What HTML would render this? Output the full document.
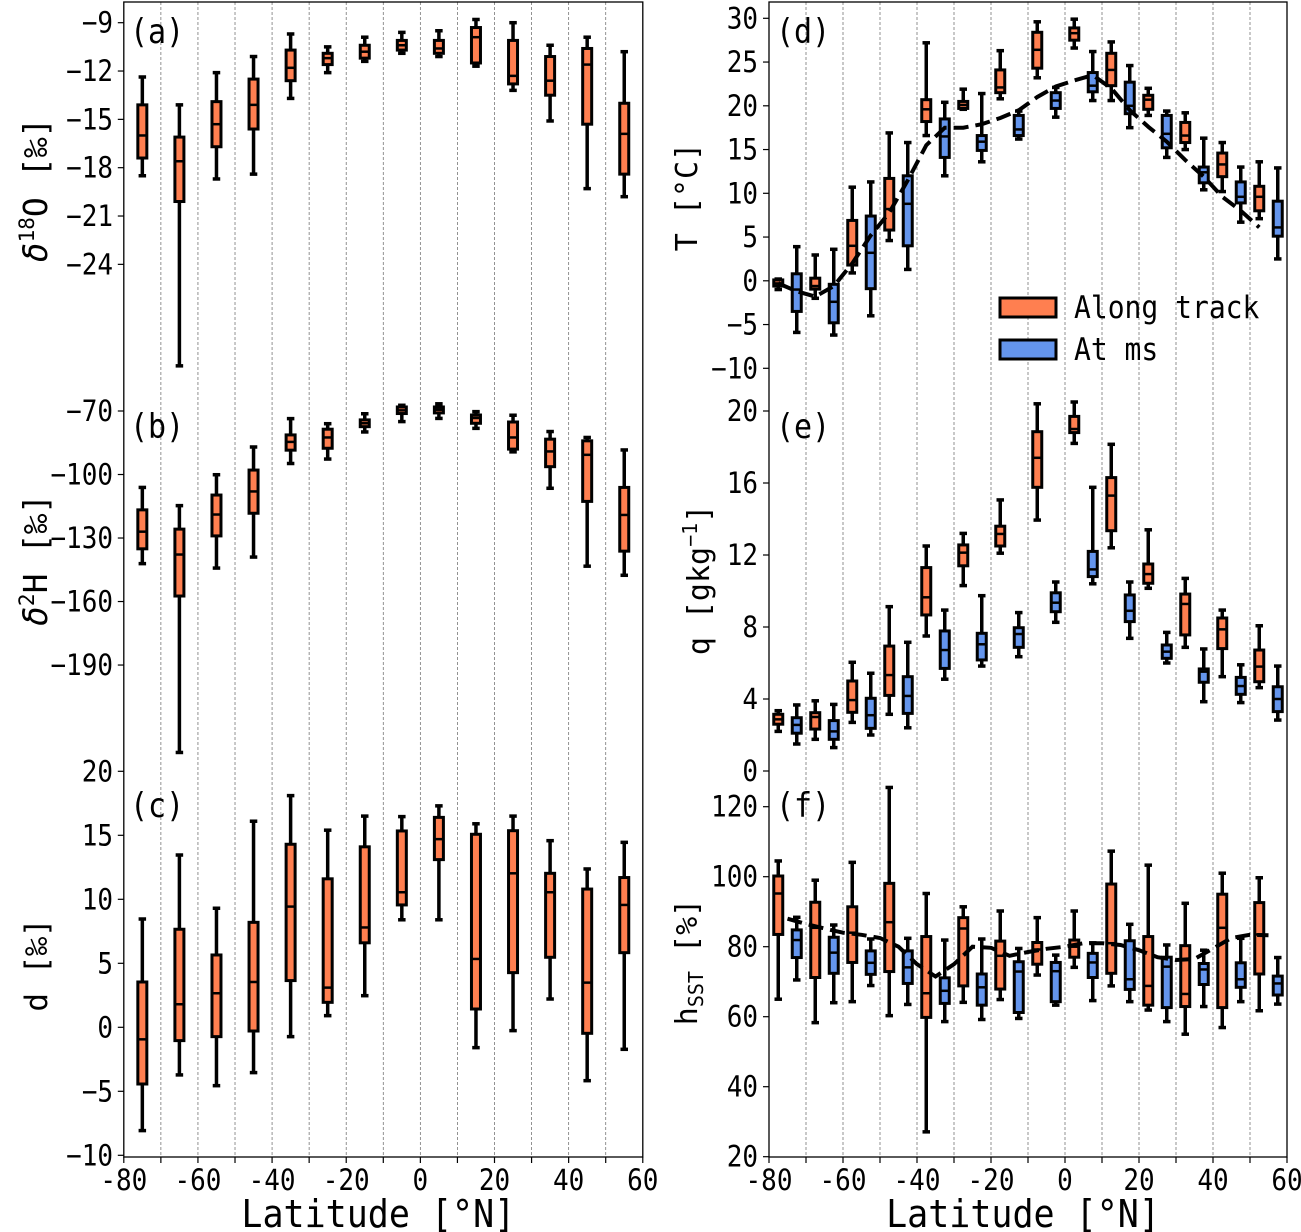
<!DOCTYPE html>
<html><head><meta charset="utf-8"><title>Isotope and meteorology by latitude</title>
<style>
html,body{margin:0;padding:0;background:#fff;}
svg{display:block;}
text{font-family:"DejaVu Sans Mono","Liberation Mono",monospace;fill:#000;}
</style></head>
<body>
<svg id="chart" width="1301" height="1232" viewBox="0 0 1301 1232" xmlns="http://www.w3.org/2000/svg">
<rect x="0" y="0" width="1301" height="1232" fill="#fff"/>
<g id="grid"></g>
<g id="marks"></g>
<g id="labels"></g>
</svg>
<script>
// ---------- data ----------
const latL = [-75,-65,-55,-45,-35,-25,-15,-5,5,15,25,35,45,55];
const latO = [-77.5,-67.5,-57.5,-47.5,-37.5,-27.5,-17.5,-7.5,2.5,12.5,22.5,32.5,42.5,52.5];
const latB = [-72.5,-62.5,-52.5,-42.5,-32.5,-22.5,-12.5,-2.5,7.5,17.5,27.5,37.5,47.5,57.5];

// (a) d18O
const aHi  = [-12.37,-14.1,-12.1,-11.1,-9.7,-10.5,-9.9,-9.6,-9.5,-8.8,-9.0,-10.4,-9.9,-10.8];
const aQ3  = [-14.1,-16.1,-13.9,-12.5,-10.7,-10.9,-10.4,-10.1,-10.1,-9.3,-10.1,-11.1,-10.6,-14.0];
const aMed = [-16.0,-17.6,-15.3,-14.1,-11.8,-11.2,-10.8,-10.4,-10.6,-9.9,-12.3,-12.6,-11.6,-15.9];
const aQ1  = [-17.4,-20.1,-16.7,-15.6,-12.6,-11.6,-11.2,-10.7,-10.9,-11.5,-12.8,-13.5,-15.3,-18.4];
const aLo  = [-18.5,-30.3,-18.7,-18.4,-13.7,-12.1,-11.4,-10.9,-11.1,-11.7,-13.2,-15.1,-19.3,-19.8];
// (b) d2H
const bHi  = [-106.1,-114.7,-100.1,-87,-73.6,-76,-71.3,-67.3,-66.6,-70.3,-72,-79.7,-82.5,-88.4];
const bQ3  = [-116.7,-125.8,-109.7,-97.9,-81.3,-78.6,-74.2,-68.1,-68.1,-71.9,-75.2,-83.3,-84.1,-106.1];
const bMed = [-127,-137.8,-118.9,-108,-84.6,-82.5,-75.8,-69.7,-69.4,-73.3,-82.5,-89.1,-90.7,-119.1];
const bQ1  = [-135.1,-157.4,-129,-118.3,-88.5,-87.6,-77.4,-71.2,-70.9,-75.8,-88,-96.3,-112.7,-136.2];
const bLo  = [-142.1,-231.3,-144.2,-139,-94.8,-92.7,-79.9,-75,-73.5,-78.2,-89.3,-106.5,-143.3,-147.6];
// (c) d-excess
const cHi  = [8.46,13.46,9.3,16.1,18.1,15.4,16.5,16.46,17.3,15.9,16.5,14.58,12.37,14.45];
const cQ3  = [3.54,7.66,5.65,8.2,14.3,11.6,14.1,15.34,16.4,15.08,15.36,12.03,10.8,11.7];
const cMed = [-0.94,1.8,2.66,3.54,9.43,3.1,7.8,10.55,14.7,5.34,12.03,10.55,3.49,9.56];
const cQ1  = [-4.43,-1.04,-0.73,-0.29,3.65,1.95,6.6,9.56,13.1,1.43,4.27,5.47,-0.47,5.83];
const cLo  = [-8.07,-3.72,-4.56,-3.54,-0.73,0.91,2.47,8.4,8.4,-1.59,-0.26,2.21,-4.17,-1.72];
// (d) T along track
const dOHi  = [0.2,2.95,10.7,16.9,27.2,21.9,26.3,29.6,29.9,27.3,22.0,19.2,15.8,13.6];
const dOQ3  = [0.1,0.3,6.9,11.7,20.7,20.5,24.1,28.4,28.9,26.0,21.2,18.1,14.6,10.8];
const dOMed = [-0.3,-0.6,4.0,8.2,19.6,20.1,22.1,26.4,28.3,24.1,20.7,16.6,13.3,9.6];
const dOQ1  = [-0.6,-0.95,1.8,5.8,18.2,19.7,21.5,24.3,27.5,22.3,19.6,15.8,11.9,8.0];
const dOLo  = [-1.0,-2.0,0.9,4.6,16.6,19.6,20.8,23.2,26.6,20.6,18.9,15.0,10.2,7.1];
// (d) T at ms
const dBHi  = [3.9,3.6,11.3,15.8,20.4,21.4,19.4,22.1,26.2,24.6,19.4,16.3,13.0,12.9];
const dBQ3  = [0.8,-0.4,7.4,12.0,18.5,16.6,18.9,21.5,23.8,22.7,18.9,13.0,11.3,9.1];
const dBMed = [-1.0,-2.4,3.2,8.8,16.5,15.9,17.3,20.6,22.3,20.0,16.8,12.4,9.6,6.1];
const dBQ1  = [-3.5,-4.8,-0.9,4.0,14.1,14.9,16.6,19.7,21.6,19.1,15.2,11.2,8.9,5.1];
const dBLo  = [-5.9,-6.2,-4.0,1.3,12.0,13.6,16.2,18.7,20.6,17.5,14.1,10.4,6.7,2.5];
// (d) dashed line
const dLineLat = [-77.5,-72.5,-67.5,-62.5,-57.5,-52.5,-47.5,-42.5,-37.5,-32.5,-27.5,-22.5,-17.5,-12.5,-7.5,-2.5,2.5,7.5,12.5,17.5,22.5,27.5,32.5,37.5,42.5,47.5,52.5];
const dLineVal = [-0.3,-1.2,-1.8,-0.6,2.0,5.2,7.8,11.5,15.5,17.5,17.5,17.9,18.6,19.5,21,22.2,22.9,23.5,22,19.5,17.6,15.9,13.8,11.9,9.6,8.0,6.1];
// (e) q along track
const eOHi  = [3.35,3.9,6.04,9.13,12.5,13.2,15.06,20.4,20.5,18.15,13.4,10.7,8.94,8.07];
const eOQ3  = [3.15,3.24,5.0,6.94,11.3,12.56,13.6,18.85,19.7,16.3,11.5,9.83,8.5,6.72];
const eOMed = [2.87,3.0,3.94,5.33,9.65,12.13,13.17,17.4,19.0,15.3,10.94,9.28,7.87,5.8];
const eOQ1  = [2.6,2.33,3.26,4.2,8.67,11.4,12.5,15.76,18.8,13.35,10.43,7.56,6.8,4.96];
const eOLo  = [2.2,1.76,2.7,3.15,7.5,10.3,12.1,13.94,18.2,12.4,10.15,6.87,5.24,4.63];
// (e) q at ms
const eBHi  = [3.67,3.7,5.43,7.15,8.94,9.74,8.8,10.5,15.76,10.5,7.7,6.78,5.9,5.83];
const eBQ3  = [2.96,2.8,4.04,5.24,7.78,7.65,7.96,9.9,12.2,9.78,7.0,5.67,5.2,4.68];
const eBMed = [2.56,2.2,3.1,4.17,6.72,7.04,7.61,9.35,11.2,8.9,6.63,5.52,4.72,4.0];
const eBQ1  = [2.1,1.76,2.37,3.2,5.7,6.17,6.87,8.85,10.8,8.3,6.26,4.93,4.26,3.3];
const eBLo  = [1.5,1.3,2.0,2.4,5.1,5.83,6.35,8.26,10.4,7.37,6.0,3.85,3.8,2.83];
// (f) hSST along track
const fOHi  = [104.5,99,104.1,125.5,95.2,91.4,90.2,88.3,90.2,107.3,103.3,92.4,101,99.7];
const fOQ3  = [100.2,92.7,91.4,98.1,82.9,88.3,81.6,81.2,81.9,97.9,82.9,80.3,95,92.6];
const fOMed = [95.2,85.4,84,87,66.7,85.2,77.4,79.2,80,81,68.8,66.5,85.4,83.5];
const fOQ1  = [83.5,71.2,75.5,72.9,59.8,68.8,67.9,75,77,72.4,63.3,62.9,62.6,72.2];
const fOLo  = [65,58.3,64.3,60.3,27.1,64.1,64.9,71.9,74.1,68.8,61.9,55,56.9,61.7];
// (f) hSST at ms
const fBHi  = [88.4,86.2,82.2,82.4,81.9,82.2,79.5,77.6,81.1,86.4,80.5,79,82.4,76.9];
const fBQ3  = [84.8,82.7,78.8,78.8,71.1,72.2,75.7,75.5,78.1,81.7,77,75.2,75.4,71.6];
const fBMed = [81.9,78.3,75.4,74.1,67.4,68.4,72.9,73,75.5,70.7,74.3,73.5,70.7,69.5];
const fBQ1  = [76.9,72.4,72.1,69.5,63.8,63.3,61.2,64.3,71.2,67.8,62.6,69.2,68.4,66.2];
const fBLo  = [70.5,64,68.9,63.5,58.6,59.2,59.5,63.3,64.6,64.3,58.6,62.9,64.3,63.6];
// (f) dashed line
const fLineLat = [-75,-70,-65,-60,-55,-50,-45,-40,-35,-30,-25,-20,-15,-10,-5,0,5,10,15,20,25,30,35,40,45,50,55];
const fLineVal = [88,86.5,85.2,84,83.4,82.5,80,75,71.5,75,80,79.7,77.4,78.5,79.4,80,81,81,80.5,79,77,76.2,76.5,79.5,82.5,83.4,83.3];

// tick labels
const xTicks = [-80,-60,-40,-20,0,20,40,60];
const aTicks = [-9,-12,-15,-18,-21,-24];
const bTicks = [-70,-100,-130,-160,-190];
const cTicks = [20,15,10,5,0,-5,-10];
const dTicks = [30,25,20,15,10,5,0,-5,-10];
const eTicks = [20,16,12,8,4,0];
const fTicks = [120,100,80,60,40,20];

// ---------- scales ----------
const xL = lat => 123.8 + (lat + 80) * 3.707;
const xR = lat => 769 + (lat + 80) * 3.7;
const ya = v => 22.7 + (-9 - v) * 16.11;
const yb = v => 411 + (-70 - v) * 2.117;
const yc = v => 835.3 + (15 - v) * 12.8;
const yd = v => 18.3 + (30 - v) * 8.75;
const ye = v => 411 + (20 - v) * 18;
const yf = v => 806.7 + (120 - v) * 3.5;

const NS = 'http://www.w3.org/2000/svg';
const gGrid = document.getElementById('grid');
const gMarks = document.getElementById('marks');
const gLab = document.getElementById('labels');
const ORANGE = '#FF7F50', BLUE = '#6495ED';
const TOP = 2, BOT = 1157;

function mk(tag, attrs, parent) {
  const e = document.createElementNS(NS, tag);
  for (const k in attrs) e.setAttribute(k, attrs[k]);
  parent.appendChild(e);
  return e;
}
function txt(x, y, s, size, anchor, name, stretch) {
  const t = mk('text', {'font-size': size, 'text-anchor': anchor,
    transform: 'translate(' + x + ',' + y + ') scale(1,' + (stretch || 1.12) + ')'}, gLab);
  t.textContent = s;
  
  
  return t;
}

// grid lines and frames
[[xL, 123.8, 642.8, 'left'], [xR, 769, 1287, 'right']].forEach(([sx, x0, x1, side]) => {
  for (let lat = -70; lat <= 50; lat += 10) {
    const l = mk('line', {x1: sx(lat), x2: sx(lat), y1: TOP, y2: BOT, stroke: '#777', 'stroke-width': 0.8, 'stroke-dasharray': '3 2'}, gGrid);
    
    
  }
  const f = mk('rect', {x: x0, y: TOP, width: x1 - x0, height: BOT - TOP, fill: 'none', stroke: '#000', 'stroke-width': 1.3}, gGrid);
  
  
  for (let lat = -80; lat <= 60; lat += 10) {
    const t = mk('line', {x1: sx(lat), x2: sx(lat), y1: BOT, y2: BOT + 6, stroke: '#000', 'stroke-width': 1.2}, gGrid);
    
    
  }
  xTicks.forEach(v => txt(sx(v), 1190, String(v), 26, 'middle', side + '-x-tick-label'));
  txt((x0 + x1) / 2 - 5, 1227, 'Latitude [°N]', 35, 'middle', side + '-x-axis-title', 1.1);
});

// y ticks
function yTicks(list, ys, x0, lx, name) {
  list.forEach(v => {
    const t = mk('line', {x1: x0 - 6, x2: x0, y1: ys(v), y2: ys(v), stroke: '#000', 'stroke-width': 1.2}, gGrid);
    
    
    txt(lx, ys(v) + 10, String(v).replace('-', '\u2212'), 26, 'end', name + '-y-tick-label');
  });
}
yTicks(aTicks, ya, 123.8, 113, 'panel-a');
yTicks(bTicks, yb, 123.8, 113, 'panel-b');
yTicks(cTicks, yc, 123.8, 113, 'panel-c');
yTicks(dTicks, yd, 769, 758, 'panel-d');
yTicks(eTicks, ye, 769, 758, 'panel-e');
yTicks(fTicks, yf, 769, 758, 'panel-f');

// box plots
function boxes(lats, sx, ys, hi, q3, med, q1, lo, color, name) {
  for (let i = 0; i < lats.length; i++) {
    const x = sx(lats[i]);
    const g = mk('g', {}, gMarks);
    
    
    mk('line', {x1: x, x2: x, y1: ys(hi[i]), y2: ys(lo[i]), stroke: '#000', 'stroke-width': 3.5}, g);
    mk('line', {x1: x - 2, x2: x + 2, y1: ys(hi[i]), y2: ys(hi[i]), stroke: '#000', 'stroke-width': 3.5, 'stroke-linecap': 'square'}, g);
    mk('line', {x1: x - 2, x2: x + 2, y1: ys(lo[i]), y2: ys(lo[i]), stroke: '#000', 'stroke-width': 3.5, 'stroke-linecap': 'square'}, g);
    const top = ys(q3[i]), bot = ys(q1[i]);
    mk('rect', {x: x - 4.5, y: top, width: 9, height: Math.max(bot - top, 0.5), fill: color, stroke: '#000', 'stroke-width': 3}, g);
    mk('line', {x1: x - 4.5, x2: x + 4.5, y1: ys(med[i]), y2: ys(med[i]), stroke: '#000', 'stroke-width': 2.5}, g);
  }
}
boxes(latL, xL, ya, aHi, aQ3, aMed, aQ1, aLo, ORANGE, 'd18o');
boxes(latL, xL, yb, bHi, bQ3, bMed, bQ1, bLo, ORANGE, 'd2h');
boxes(latL, xL, yc, cHi, cQ3, cMed, cQ1, cLo, ORANGE, 'dexcess');
boxes(latO, xR, yd, dOHi, dOQ3, dOMed, dOQ1, dOLo, ORANGE, 'temp-along-track');
boxes(latB, xR, yd, dBHi, dBQ3, dBMed, dBQ1, dBLo, BLUE, 'temp-at-ms');
boxes(latO, xR, ye, eOHi, eOQ3, eOMed, eOQ1, eOLo, ORANGE, 'q-along-track');
boxes(latB, xR, ye, eBHi, eBQ3, eBMed, eBQ1, eBLo, BLUE, 'q-at-ms');
boxes(latO, xR, yf, fOHi, fOQ3, fOMed, fOQ1, fOLo, ORANGE, 'hsst-along-track');
boxes(latB, xR, yf, fBHi, fBQ3, fBMed, fBQ1, fBLo, BLUE, 'hsst-at-ms');

// dashed lines
function dashLine(lats, vals, ys, name) {
  const pts = lats.map((l, i) => xR(l).toFixed(1) + ',' + ys(vals[i]).toFixed(1)).join(' ');
  const p = mk('polyline', {points: pts, fill: 'none', stroke: '#000', 'stroke-width': 4, 'stroke-dasharray': '15 7'}, gMarks);
  
  
}
dashLine(dLineLat, dLineVal, yd, 'temp-dashed-line');
dashLine(fLineLat, fLineVal, yf, 'hsst-dashed-line');

// panel letters
txt(130, 43, '(a)', 30, 'start', 'panel-a-label');
txt(130, 438, '(b)', 30, 'start', 'panel-b-label');
txt(130, 817, '(c)', 30, 'start', 'panel-c-label');
txt(776, 43, '(d)', 30, 'start', 'panel-d-label');
txt(776, 438, '(e)', 30, 'start', 'panel-e-label');
txt(776, 817, '(f)', 30, 'start', 'panel-f-label');

// legend
const lg = mk('g', {}, gLab);


const lr1 = mk('rect', {x: 1000, y: 298, width: 56, height: 19, fill: ORANGE, stroke: '#000', 'stroke-width': 3}, lg);


const lr2 = mk('rect', {x: 1000, y: 340, width: 56, height: 19, fill: BLUE, stroke: '#000', 'stroke-width': 3}, lg);


txt(1074, 318, 'Along track', 28, 'start', 'legend-entry-along-track');
txt(1074, 360, 'At ms', 28, 'start', 'legend-entry-at-ms');
</script>
<div style="position:absolute;left:0;top:0;width:1301px;height:1232px;pointer-events:none">
<svg width="1301" height="1232" style="position:absolute;left:0;top:0">
<text transform="translate(47,190) rotate(-90)" font-size="33" text-anchor="middle"><tspan font-style="italic">δ</tspan><tspan font-size="21" dy="-13">18</tspan><tspan dy="13">O [‰]</tspan></text>
<text transform="translate(47,560) rotate(-90)" font-size="33" text-anchor="middle"><tspan font-style="italic">δ</tspan><tspan font-size="21" dy="-13">2</tspan><tspan dy="13">H [‰]</tspan></text>
<text transform="translate(47,965) rotate(-90)" font-size="31" text-anchor="middle">d [‰]</text>
<text transform="translate(697,197) rotate(-90)" font-size="30" text-anchor="middle">T [°C]</text>
<text transform="translate(709,580) rotate(-90)" font-size="30" text-anchor="middle">q [gkg<tspan font-size="20" dy="-12">−1</tspan><tspan dy="12">]</tspan></text>
<text transform="translate(697,962) rotate(-90)" font-size="30" text-anchor="middle">h<tspan font-size="20" dy="6">SST</tspan><tspan dy="-6">    [%]</tspan></text>
</svg>
</div>
</body></html>
